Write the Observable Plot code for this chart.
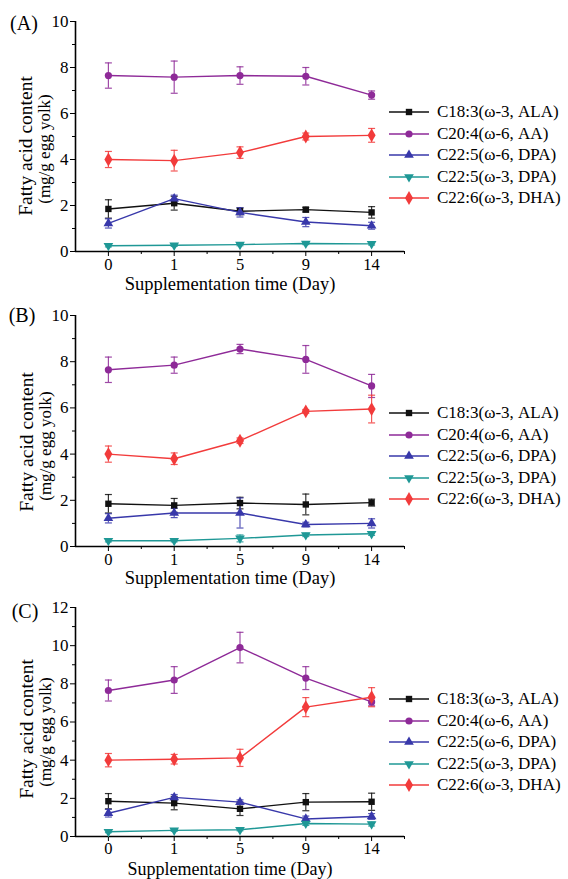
<!DOCTYPE html>
<html>
<head>
<meta charset="utf-8">
<script src="https://cdn.jsdelivr.net/npm/d3@7"></script>
<script src="https://cdn.jsdelivr.net/npm/@observablehq/plot@0.6"></script>
<style>
  html, body { margin: 0; padding: 0; background: #fff; }
  #wrap { position: relative; width: 568px; height: 879px; overflow: hidden; font-family: "Liberation Serif", "DejaVu Serif", serif; color: #000; }
  #wrap svg, #wrap svg text, #wrap svg g { font-family: "Liberation Serif", "DejaVu Serif", serif !important; }
  .panel { position: absolute; left: 0; }
  .lab { position: absolute; white-space: nowrap; transform: translate(-50%, -50%); line-height: 1; }
  .rot { position: absolute; white-space: nowrap; transform: translate(-50%, -50%) rotate(-90deg); line-height: 1; }
  .legend { position: absolute; left: 389px; }
  .legrow { display: flex; align-items: center; height: 21.5px; font-size: 17px; white-space: nowrap; }
  .legrow svg { margin-right: 6px; overflow: visible; }
</style>
</head>
<body>
<div id="wrap"></div>
<script>
// ---- data ----
const days = ["0", "1", "5", "9", "14"];
const series = ["C18:3(ω-3, ALA)", "C20:4(ω-6, AA)", "C22:5(ω-6, DPA)", "C22:5(ω-3, DPA)", "C22:6(ω-3, DHA)"];
const colors = ["#111111", "#8e2a98", "#3838aa", "#1f9896", "#f23b3b"];
const panelLabels = ["(A)", "(B)", "(C)"];
const yMax = [10, 10, 12];
const xTitle = "Supplementation time (Day)";
const yTitle = "Fatty acid content";
const yUnit = "(mg/g egg yolk)";

// rows: ALA, AA, DPA(n-6), DPA(n-3), DHA ; columns: day 0,1,5,9,14
const panelA_means = [
  [1.85, 2.10, 1.75, 1.82, 1.70],
  [7.65, 7.58, 7.65, 7.62, 6.80],
  [1.22, 2.30, 1.70, 1.28, 1.12],
  [0.25, 0.27, 0.30, 0.35, 0.33],
  [4.00, 3.95, 4.30, 5.00, 5.05]
];
const panelA_sd = [
  [0.40, 0.30, 0.15, 0.10, 0.25],
  [0.55, 0.70, 0.38, 0.38, 0.18],
  [0.20, 0.15, 0.20, 0.20, 0.15],
  [0.05, 0.05, 0.05, 0.05, 0.05],
  [0.35, 0.45, 0.25, 0.15, 0.30]
];
const panelB_means = [
  [1.85, 1.78, 1.88, 1.82, 1.90],
  [7.65, 7.85, 8.55, 8.10, 6.95],
  [1.22, 1.45, 1.45, 0.95, 1.00],
  [0.25, 0.25, 0.35, 0.50, 0.55],
  [4.00, 3.80, 4.58, 5.85, 5.95]
];
const panelB_sd = [
  [0.40, 0.30, 0.25, 0.45, 0.15],
  [0.55, 0.35, 0.20, 0.60, 0.50],
  [0.20, 0.20, 0.65, 0.10, 0.20],
  [0.05, 0.05, 0.15, 0.07, 0.07],
  [0.35, 0.25, 0.12, 0.08, 0.60]
];
const panelC_means = [
  [1.85, 1.75, 1.45, 1.80, 1.82],
  [7.65, 8.20, 9.90, 8.30, 7.05],
  [1.22, 2.05, 1.80, 0.92, 1.05],
  [0.25, 0.32, 0.35, 0.68, 0.65],
  [4.00, 4.05, 4.12, 6.78, 7.30]
];
const panelC_sd = [
  [0.40, 0.35, 0.35, 0.45, 0.45],
  [0.55, 0.70, 0.80, 0.60, 0.20],
  [0.20, 0.15, 0.12, 0.15, 0.15],
  [0.05, 0.05, 0.05, 0.10, 0.10],
  [0.35, 0.25, 0.45, 0.50, 0.50]
];
const allMeans = [panelA_means, panelB_means, panelC_means];
const allSd = [panelA_sd, panelB_sd, panelC_sd];

// ---- layout ----
const W = 568, H = 293;
const tops = [0, 293, 586];
const mTop = [21, 22, 21];
const mBottom = [42, 40, 43];
const mLeft = 75, mRight = 164;
const legendFirst = [112, 413, 699];
const labelPos = [[24, 23], [22, 315], [25, 611]];
const yTitlePos = [[26, 146, 44, 149], [27, 442, 45, 446], [27, 729, 45, 732]];
const xTitleOffset = [33, 32, 33];
const xTitleSize = ["18.5px", "18.5px", "18px"];
const xTickPad = [2, 2, 1];

// custom symbols
const capSymbol = { draw(ctx, size) { const w = Math.sqrt(size / Math.PI); ctx.moveTo(-w, 0); ctx.lineTo(w, 0); } };
const triDown = { draw(ctx, size) {
  const y = -Math.sqrt(size / (Math.sqrt(3) * 3));
  ctx.moveTo(0, -y * 2); ctx.lineTo(-Math.sqrt(3) * y, y); ctx.lineTo(Math.sqrt(3) * y, y); ctx.closePath();
} };
const symbols = ["square", "circle", "triangle", triDown, "diamond"];
const d3Symbols = [d3.symbolSquare, d3.symbolCircle, d3.symbolTriangle, triDown, d3.symbolDiamond];
const FONT = '"Liberation Serif", serif';

const wrap = document.getElementById("wrap");

for (let p = 0; p < 3; p++) {
  const rows = [];
  series.forEach((s, si) => days.forEach((d, i) => rows.push({ s, si, i, day: d, mean: allMeans[p][si][i], sd: allSd[p][si][i] })));
  const major = d3.range(0, yMax[p] + 1, 2);
  const minor = d3.range(1, yMax[p], 2);
  const marks = [
    Plot.axisX({ ticks: [0, 1, 2, 3, 4], tickFormat: i => days[i], tickSize: 5, tickPadding: xTickPad[p], label: null, fontSize: 16.5, fontFamily: FONT }),
    Plot.axisX({ ticks: [0.5, 1.5, 2.5, 3.5, 4.5], tickFormat: () => "", tickSize: 3, label: null }),
    Plot.axisY({ ticks: major, tickSize: 5, tickPadding: 2, label: null, fontSize: 17, fontFamily: FONT }),
    Plot.axisY({ ticks: minor, tickFormat: () => "", tickSize: 3, label: null }),
    Plot.ruleY([0], { stroke: "#000", strokeWidth: 1.6 }),
    Plot.ruleX([-0.5], { stroke: "#000", strokeWidth: 1.6 })
  ];
  series.forEach((s, si) => {
    const sub = rows.filter(r => r.si === si);
    const c = colors[si];
    marks.push(
      Plot.ruleX(sub, { x: "i", y1: r => r.mean - r.sd, y2: r => r.mean + r.sd, stroke: c, strokeWidth: 1.2, strokeOpacity: 0.85 }),
      Plot.dot(sub, { x: "i", y: r => r.mean - r.sd, symbol: capSymbol, r: 3.5, stroke: c, strokeWidth: 1.2, fill: "none", strokeOpacity: 0.85 }),
      Plot.dot(sub, { x: "i", y: r => r.mean + r.sd, symbol: capSymbol, r: 3.5, stroke: c, strokeWidth: 1.2, fill: "none", strokeOpacity: 0.85 }),
      Plot.line(sub, { x: "i", y: "mean", stroke: c, strokeWidth: 1.4 })
    );
  });
  series.forEach((s, si) => {
    const sub = rows.filter(r => r.si === si);
    marks.push(Plot.dot(sub, { x: "i", y: "mean", symbol: symbols[si], r: si === 4 ? 4.2 : 3.6, fill: colors[si], stroke: "none" }));
  });

  const chart = Plot.plot({
    width: W, height: H,
    marginTop: mTop[p], marginBottom: mBottom[p], marginLeft: mLeft, marginRight: mRight,
    x: { type: "linear", domain: [-0.5, 4.5] },
    y: { domain: [0, yMax[p]] },
    style: { fontFamily: FONT, fontSize: "17px", color: "#000", background: "transparent", overflow: "visible" },
    marks
  });
  chart.classList.add("panel");
  chart.style.top = tops[p] + "px";
  wrap.appendChild(chart);

  // panel label
  const pl = document.createElement("div");
  pl.className = "lab"; pl.style.fontSize = "20px";
  pl.style.left = labelPos[p][0] + "px"; pl.style.top = labelPos[p][1] + "px";
  pl.textContent = panelLabels[p];
  wrap.appendChild(pl);

  // x title
  const axisY0 = tops[p] + H - mBottom[p];
  const xt = document.createElement("div");
  xt.className = "lab"; xt.style.fontSize = xTitleSize[p];
  xt.style.left = "230px"; xt.style.top = (axisY0 + xTitleOffset[p]) + "px";
  xt.textContent = xTitle;
  wrap.appendChild(xt);

  // y titles
  const yt = document.createElement("div");
  yt.className = "rot"; yt.style.fontSize = "19.5px";
  yt.style.left = yTitlePos[p][0] + "px"; yt.style.top = yTitlePos[p][1] + "px";
  yt.textContent = yTitle;
  wrap.appendChild(yt);
  const yu = document.createElement("div");
  yu.className = "rot"; yu.style.fontSize = "17px";
  yu.style.left = yTitlePos[p][2] + "px"; yu.style.top = yTitlePos[p][3] + "px";
  yu.textContent = yUnit;
  wrap.appendChild(yu);

  // legend
  const lg = document.createElement("div");
  lg.className = "legend";
  lg.style.top = (legendFirst[p] - 21.5 / 2) + "px";
  series.forEach((s, si) => {
    const row = document.createElement("div");
    row.className = "legrow";
    const svg = d3.create("svg").attr("width", 42).attr("height", 14);
    svg.append("line").attr("x1", 0).attr("x2", 40).attr("y1", 7).attr("y2", 7).attr("stroke", colors[si]).attr("stroke-width", 1.4);
    svg.append("path").attr("transform", "translate(20,7)")
      .attr("d", d3.symbol(d3Symbols[si], Math.PI * Math.pow(si === 4 ? 4.2 : 3.6, 2))())
      .attr("fill", colors[si]);
    row.appendChild(svg.node());
    const t = document.createElement("span");
    t.textContent = s;
    row.appendChild(t);
    lg.appendChild(row);
  });
  wrap.appendChild(lg);
}
</script>
</body>
</html>
